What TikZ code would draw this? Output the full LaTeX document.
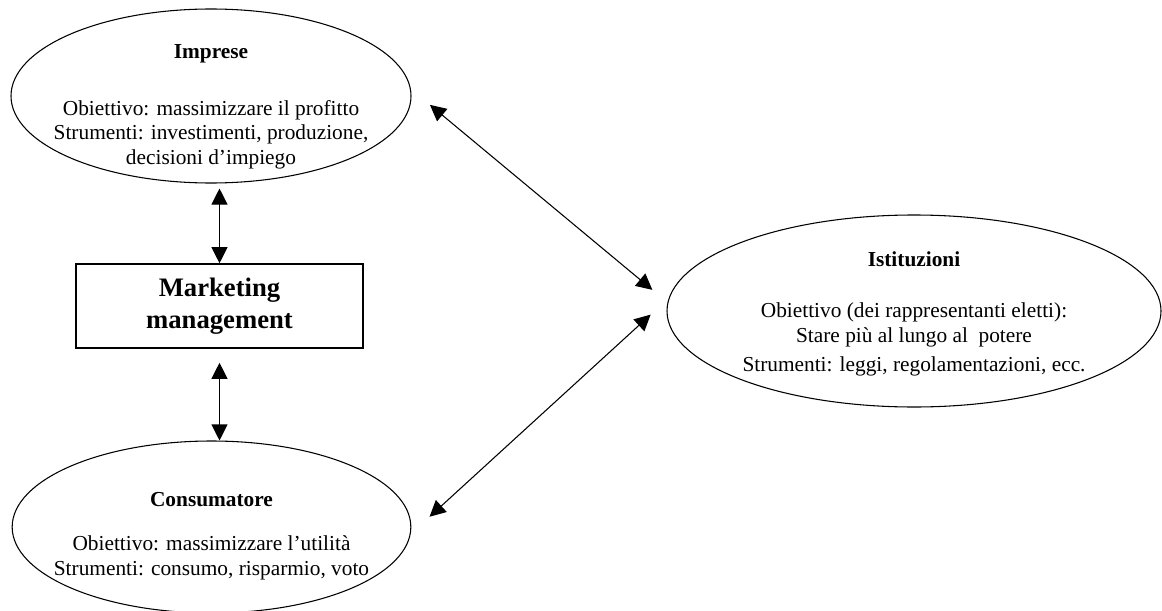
\documentclass[tikz,border=0pt]{standalone}
\usepackage{fontspec}
\setmainfont{Liberation Serif}
\usetikzlibrary{positioning,
				arrows.meta,
				shapes.geometric,
				calc}

\begin{document}
\begin{tikzpicture}[x=0.75pt,y=-0.75pt,
  oval/.style={draw,ellipse,line width=0.8pt,inner sep=0pt},
  txt/.style={align=center,font=\fontsize{16}{18.4}\selectfont},
  link/.style={{Triangle[length=12pt,width=12pt]}-{Triangle[length=12pt,width=12pt]},line width=0.8pt}]
  \useasboundingbox (0,0) rectangle (1162,610);
  \node[oval,minimum width=300pt,minimum height=130.5pt] (imp) at (211,96) {};
  \node[oval,minimum width=299pt,minimum height=129pt] (cons) at (211.5,527) {};
  \node[oval,minimum width=370.5pt,minimum height=144pt] (ist) at (914,311) {};
  \node[draw,line width=1.2pt,minimum width=215pt,minimum height=63pt,align=center,
        font=\fontsize{20}{24}\selectfont\bfseries] (mm) at (219.5,306) {Marketing\\management};
  \node[txt] (imptxt) at (211,107) {\textbf{Imprese}\\[24pt]Obiettivo: massimizzare il profitto\\Strumenti: investimenti, produzione,\\decisioni d’impiego};
  \node[txt] (isttxt) at (914,314) {\textbf{Istituzioni}\\[20pt]Obiettivo (dei rappresentanti eletti):\\Stare più al lungo al\ \ potere\\[4pt]Strumenti: leggi, regolamentazioni, ecc.};
  \node[txt] (constxt) at (211.5,536) {\textbf{Consumatore}\\[15pt]Obiettivo: massimizzare l’utilità\\Strumenti: consumo, risparmio, voto};
  \draw[link,shorten >=3.75pt] (mm.north) -- (imp.south -| mm.north);
  \draw[link,shorten <=10.5pt] (mm.south) -- (cons.north -| mm.south);
  \draw[link,shorten <=18.6pt,shorten >=14.7pt] (imp.2) -- (ist.178.75);
  \draw[link,shorten <=18.3pt,shorten >=19.1pt] (ist.177.5) -- (cons.-2);
\end{tikzpicture}
\end{document}
